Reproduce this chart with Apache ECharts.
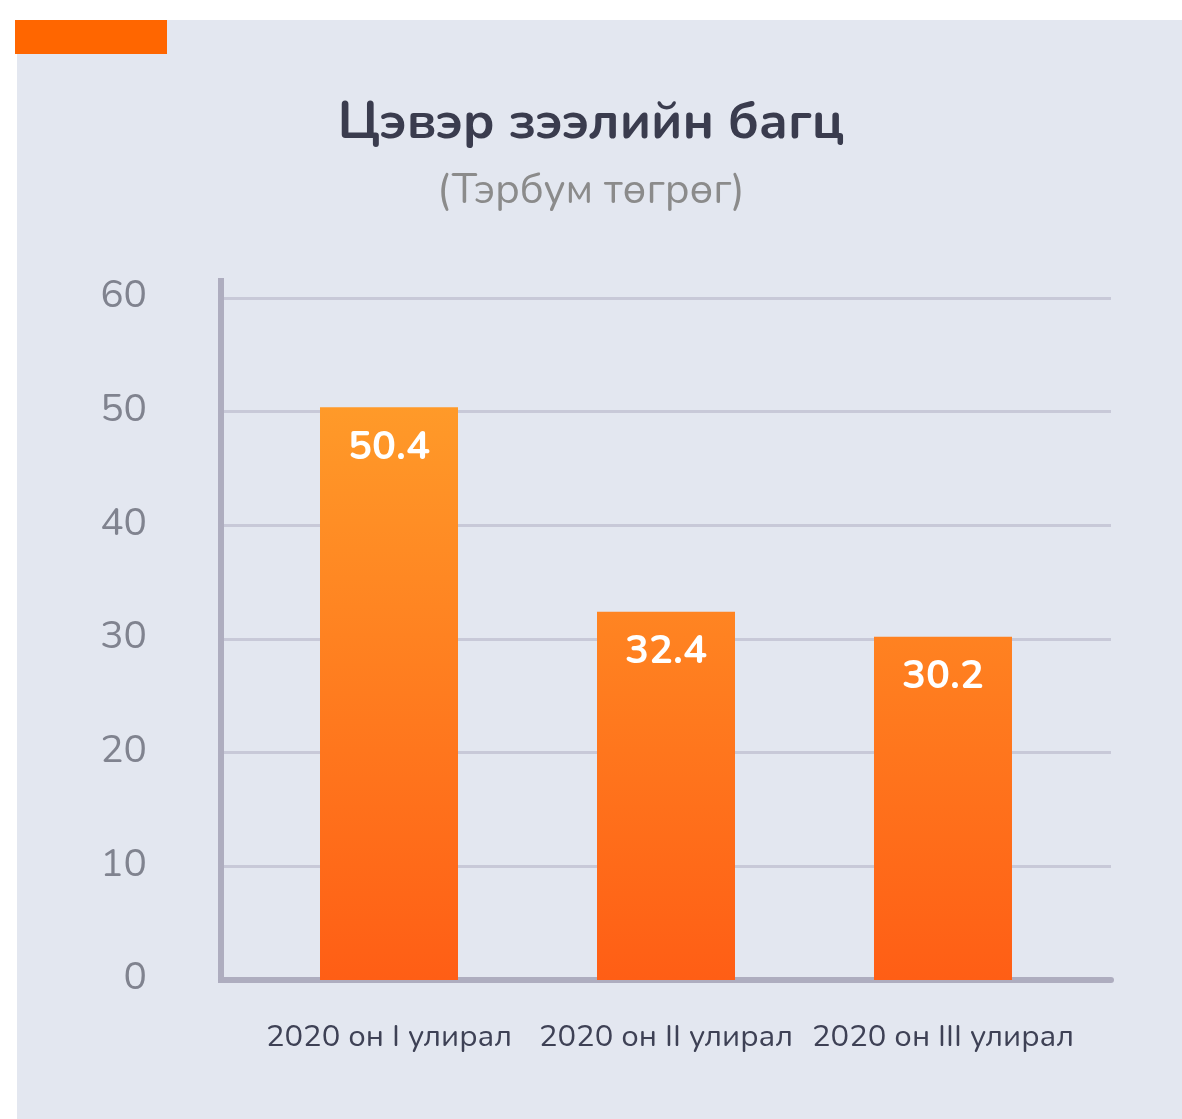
<!DOCTYPE html>
<html>
<head>
<meta charset="utf-8">
<script src="https://cdn.jsdelivr.net/npm/echarts@6/dist/echarts.min.js"></script>
<style>
  html, body { margin: 0; padding: 0; background: #ffffff; }
  .panel { position: absolute; left: 17px; top: 20px; width: 1165px; height: 1099px; background: #e3e7f0; }
  .tag { position: absolute; left: 15px; top: 20px; width: 152px; height: 34px; background: #ff6600; }
  .chart { position: absolute; left: 0; top: 0; width: 1182px; height: 1119px; }
</style>
</head>
<body>
<div class="panel"></div>
<div class="tag"></div>
<div class="chart"></div>
<script>
// data
const categories = ['2020 он I улирал', '2020 он II улирал', '2020 он III улирал'];
const values = [50.4, 32.4, 30.2];
const titleText = 'Цэвэр зээлийн багц';
const subText = '(Тэрбум төгрөг)';

const fontFamily = "Nunito, 'Noto Sans', 'Open Sans', sans-serif";

let chartDom = document.getElementsByClassName('chart')[0];
let myChart = echarts.init(chartDom, null, { renderer: 'canvas' });

var option = {
  backgroundColor: 'transparent',
  animation: false,
  title: [
    {
      text: titleText,
      left: 'center',
      top: 94,
      textStyle: { fontFamily: fontFamily, fontSize: 52, fontWeight: 'bold', color: '#3a3c4e' }
    },
    {
      text: subText,
      left: 'center',
      top: 167,
      textStyle: { fontFamily: fontFamily, fontSize: 42, fontWeight: 'normal', color: '#8b8b8b' }
    }
  ],
  grid: { left: 221, right: 71, top: 281, bottom: 139 },
  xAxis: {
    type: 'value',
    min: -0.6065,
    max: 2.6065,
    splitLine: { show: false },
    axisTick: { show: false },
    axisLine: { show: true, lineStyle: { color: '#aeadbf', width: 6 } },
    axisLabel: {
      customValues: [0, 1, 2],
      formatter: function (v) { return categories[Math.round(v)]; },
      fontFamily: fontFamily,
      fontSize: 31,
      color: '#3e4155',
      margin: 43
    }
  },
  yAxis: {
    type: 'value',
    min: 0,
    max: 61.5,
    interval: 10,
    axisTick: { show: false },
    axisLine: { show: true, onZero: false, lineStyle: { color: '#aeadbf', width: 6, cap: 'square' } },
    splitLine: { show: true, showMinLine: false, showMaxLine: false, lineStyle: { color: '#c8c9d8', width: 3 } },
    axisLabel: {
      showMaxLabel: false,
      fontFamily: fontFamily,
      fontSize: 39,
      color: '#80838f',
      margin: 74
    }
  },
  series: [
    {
      type: 'bar',
      data: values.map(function (v, i) { return [i, v]; }),
      barWidth: 138,
      itemStyle: {
        color: {
          type: 'linear', x: 0, y: 406, x2: 0, y2: 980, global: true,
          colorStops: [
            { offset: 0, color: '#ff9a29' },
            { offset: 1, color: '#ff5e15' }
          ]
        }
      },
      label: {
        show: true,
        position: 'insideTop',
        distance: 22,
        formatter: function (p) { return p.value[1].toFixed(1); },
        fontFamily: fontFamily,
        fontSize: 40,
        fontWeight: 'bold',
        color: '#ffffff'
      }
    }
  ]
};
myChart.setOption(option);
</script>
</body>
</html>
